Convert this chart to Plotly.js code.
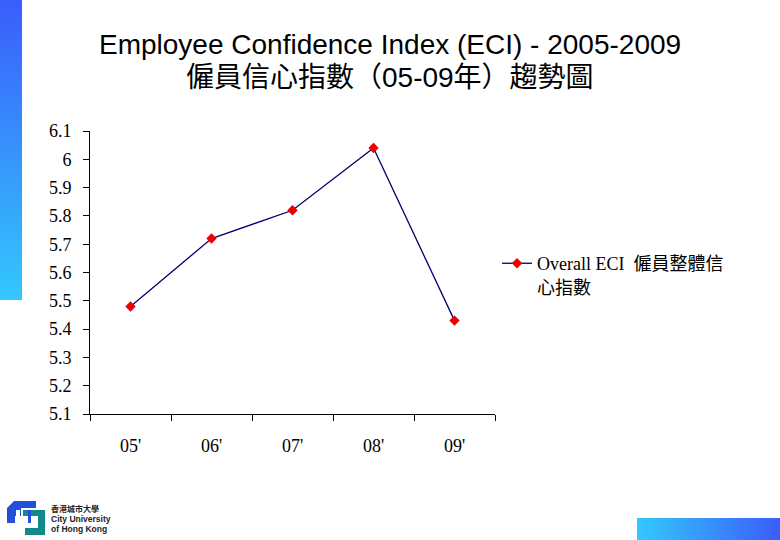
<!DOCTYPE html>
<html>
<head>
<meta charset="utf-8">
<script src="https://cdn.plot.ly/plotly-3.0.1.min.js"></script>
<style>
  html, body { margin: 0; padding: 0; background: #ffffff; }
  #wrap { position: relative; width: 780px; height: 540px; overflow: hidden; background: #ffffff; }
  #chart { position: absolute; left: 0; top: 0; width: 780px; height: 540px; }
  #barLeft { position: absolute; left: 0; top: 0; width: 22px; height: 300px;
             background: linear-gradient(to bottom, #3a5dfb, #33c8fd); }
  #barBottom { position: absolute; left: 637px; top: 518px; width: 143px; height: 22px;
               background: linear-gradient(to right, #33c8fd, #3a5dfb); }
  #logo { position: absolute; left: 0; top: 495px; }
</style>
</head>
<body>
<div id="wrap">
  <div id="barLeft"></div>
  <div id="barBottom"></div>
  <svg id="logo" width="120" height="45" xmlns="http://www.w3.org/2000/svg">
    <path d="M14 6 H36 V13 H21 V21 H15 V28 H7 V13 Z" fill="#2350d8"/>
    <path d="M16 15 H20 V21 H16 Z" fill="#ffffff"/>
    <path d="M23 15 H45 V40 H25 V33 H38 V21 H23 Z" fill="#14898a"/>
    <path d="M28 15 H31 V28 H28 Z" fill="#2350d8"/>
    <text x="51" y="17" font-family="Noto Sans CJK TC" font-size="8" font-weight="bold" fill="#222">香港城市大學</text>
    <text x="51" y="27" font-family="Liberation Sans" font-size="8.5" font-weight="bold" fill="#222">City University</text>
    <text x="51" y="37" font-family="Liberation Sans" font-size="8.5" font-weight="bold" fill="#222">of Hong Kong</text>
  </svg>
  <div id="chart"></div>
</div>
<script>
// ---- data ----
const categories = ["05'", "06'", "07'", "08'", "09'"];
const eciValues = [5.48, 5.72, 5.82, 6.04, 5.43];
const seriesName = "Overall ECI  僱員整體信<br>心指數";
const yTickVals = [5.1, 5.2, 5.3, 5.4, 5.5, 5.6, 5.7, 5.8, 5.9, 6.0, 6.1];
const yTickText = ["5.1", "5.2", "5.3", "5.4", "5.5", "5.6", "5.7", "5.8", "5.9", "6", "6.1"];
const titleLine1 = "Employee Confidence Index (ECI) - 2005-2009";
const titleLine2 = "僱員信心指數（05-09年）趨勢圖";

const serif = "'Liberation Serif', 'Noto Sans CJK TC', serif";

const trace = {
  type: 'scatter',
  mode: 'lines+markers',
  x: categories,
  y: eciValues,
  name: seriesName,
  line: { color: '#000070', width: 1.3 },
  marker: { symbol: 'diamond', size: 8, color: '#ee0000' },
  showlegend: true
};

const layout = {
  width: 780,
  height: 540,
  margin: { l: 90, r: 285, t: 131, b: 126 },
  paper_bgcolor: 'rgba(0,0,0,0)',
  plot_bgcolor: 'rgba(0,0,0,0)',
  showlegend: true,
  font: { family: serif, size: 17, color: '#000' },
  xaxis: {
    type: 'category',
    range: [-0.5, 4.5],
    tickson: 'boundaries',
    ticks: 'outside',
    ticklen: 6,
    tickcolor: '#000',
    showline: true,
    linecolor: '#000',
    linewidth: 1,
    showgrid: false,
    zeroline: false,
    ticklabelstandoff: 15,
    tickfont: { family: serif, size: 18, color: '#000' }
  },
  yaxis: {
    range: [5.1, 6.1],
    tickmode: 'array',
    tickvals: yTickVals,
    ticktext: yTickText,
    ticks: 'outside',
    ticklen: 6,
    tickcolor: '#000',
    showline: true,
    linecolor: '#000',
    linewidth: 1,
    showgrid: false,
    zeroline: false,
    ticklabelstandoff: 8,
    tickfont: { family: serif, size: 18, color: '#000' }
  },
  legend: {
    x: 1.005,
    xanchor: 'left',
    y: 0.597,
    yanchor: 'top',
    valign: 'top',
    bgcolor: 'rgba(0,0,0,0)',
    font: { family: serif, size: 18, color: '#000' },
    itemwidth: 30
  },
  annotations: [
    {
      text: titleLine1,
      xref: 'paper', yref: 'paper',
      x: 0.7407, y: 1.3074,
      xanchor: 'center', yanchor: 'middle',
      showarrow: false,
      font: { family: "'Liberation Sans', Arial, sans-serif", size: 28, color: '#000' }
    },
    {
      text: titleLine2,
      xref: 'paper', yref: 'paper',
      x: 0.7407, y: 1.1908,
      xanchor: 'center', yanchor: 'middle',
      showarrow: false,
      font: { family: "'Liberation Sans', 'Noto Sans CJK TC', sans-serif", size: 28, color: '#000' }
    }
  ]
};

Plotly.newPlot('chart', [trace], layout, { staticPlot: true, displayModeBar: false });
</script>
</body>
</html>
